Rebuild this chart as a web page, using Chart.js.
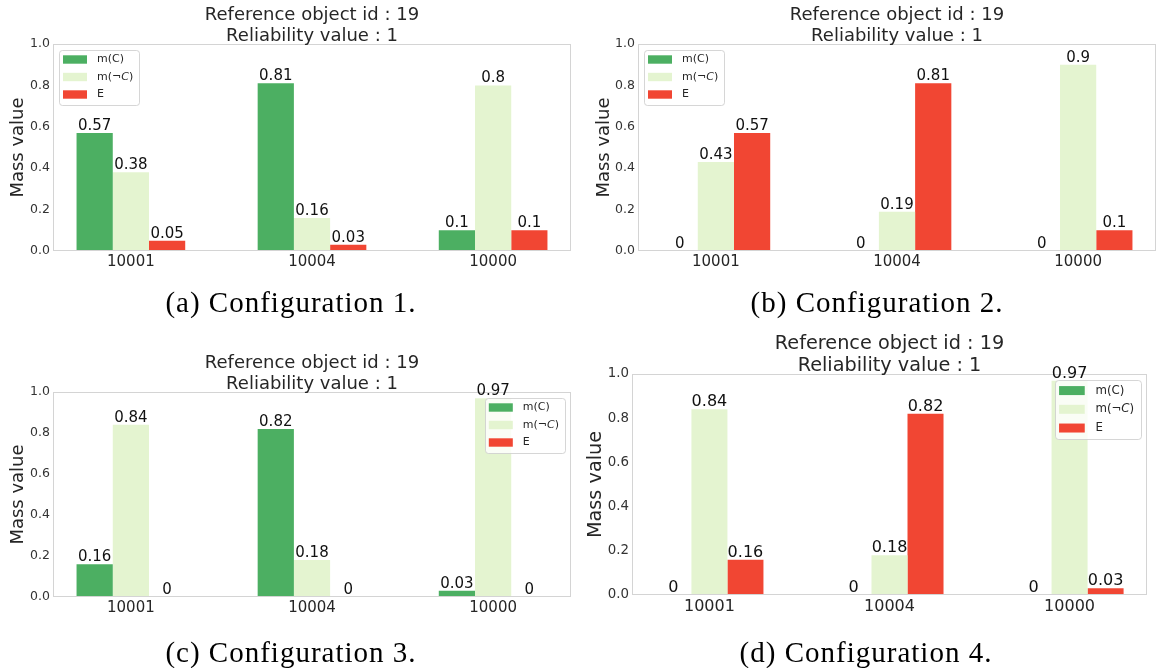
<!DOCTYPE html>
<html><head><meta charset="utf-8">
<script src="https://cdn.jsdelivr.net/npm/chart.js@4.4.1/dist/chart.umd.min.js"></script>
<style>
html,body{margin:0;padding:0;background:#fff;width:1156px;height:668px;overflow:hidden;position:relative}
canvas{position:absolute}
</style></head><body>
<canvas id="ca" width="578" height="334" style="left:0;top:0"></canvas>
<canvas id="cb" width="578" height="334" style="left:578px;top:0"></canvas>
<canvas id="cc" width="578" height="334" style="left:0;top:334px"></canvas>
<canvas id="cd" width="578" height="334" style="left:578px;top:334px"></canvas>
<script>
// ---- data ----
const categories = ['10001', '10004', '10000'];
const seriesNames = ['m(C)', 'm(¬C)', 'E'];
const yTicks = [0, 0.2, 0.4, 0.6, 0.8, 1.0];
const titleLines = ['Reference object id : 19', 'Reliability value : 1'];
const yAxisLabel = 'Mass value';
const captions = ['(a) Configuration 1.', '(b) Configuration 2.', '(c) Configuration 3.', '(d) Configuration 4.'];

const conf1_mC    = [0.57, 0.81, 0.1];
const conf1_mNotC = [0.38, 0.16, 0.8];
const conf1_E     = [0.05, 0.03, 0.1];

const conf2_mC    = [0, 0, 0];
const conf2_mNotC = [0.43, 0.19, 0.9];
const conf2_E     = [0.57, 0.81, 0.1];

const conf3_mC    = [0.16, 0.82, 0.03];
const conf3_mNotC = [0.84, 0.18, 0.97];
const conf3_E     = [0, 0, 0];

const conf4_mC    = [0, 0, 0];
const conf4_mNotC = [0.84, 0.18, 0.97];
const conf4_E     = [0.16, 0.82, 0.03];

// ---- style ----
const colors = ['#4caf62', '#e4f4d0', '#f14633'];
Chart.defaults.font.family = "'DejaVu Sans', sans-serif";
Chart.defaults.color = '#262626';

const decor = {
  id: 'decor',
  afterDatasetsDraw(chart, args, o) {
    const ctx = chart.ctx, a = chart.chartArea, s = o.s;
    ctx.save();
    // spines
    ctx.strokeStyle = '#d4d4d4'; ctx.lineWidth = 1;
    ctx.strokeRect(Math.round(a.left) + 0.5, Math.round(a.top) + 0.5,
                   Math.round(a.right - a.left) - 1, Math.round(a.bottom - a.top) - 1);
    // value labels
    ctx.fillStyle = '#111';
    ctx.font = (15 * s) + "px 'DejaVu Sans'";
    ctx.textAlign = 'center'; ctx.textBaseline = 'alphabetic';
    chart.data.datasets.forEach((ds, i) => {
      chart.getDatasetMeta(i).data.forEach((el, j) => {
        ctx.fillText(String(ds.data[j].y), el.x, el.y - 3);
      });
    });
    ctx.restore();
  },
  afterDraw(chart, args, o) {
    const ctx = chart.ctx, a = chart.chartArea, s = o.s;
    ctx.save();
    // title
    ctx.fillStyle = '#262626';
    ctx.font = (18 * s) + "px 'DejaVu Sans'";
    ctx.textAlign = 'center'; ctx.textBaseline = 'alphabetic';
    const cx = (a.left + a.right) / 2;
    ctx.fillText(titleLines[1], cx, a.top - 3);
    ctx.fillText(titleLines[0], cx, a.top - 3 - 21 * s);
    // legend
    const fs = 11 * s;
    const normal = fs + "px 'DejaVu Sans'", ital = "italic " + fs + "px 'DejaVu Sans'";
    const segs = chart.data.datasets.map(ds => {
      const lab = ds.label, k = lab.indexOf('¬');
      if (k >= 0) return [[lab.slice(0, k + 1), normal], [lab[k + 1], ital], [lab.slice(k + 2), normal]];
      return [[lab, normal]];
    });
    const widths = segs.map(sg => sg.reduce((w, [t, f]) => { ctx.font = f; return w + ctx.measureText(t).width; }, 0));
    const textX = 38 * s;
    const fw = textX + Math.max(...widths) + 6 * s, fh = 55 * s, m = 6 * s;
    const fx = o.legend === 'left' ? a.left + m : a.right - m - fw;
    const fy = a.top + m;
    ctx.beginPath();
    ctx.roundRect(Math.round(fx) + 0.5, Math.round(fy) + 0.5, Math.round(fw), Math.round(fh), 3 * s);
    ctx.fillStyle = 'rgba(255,255,255,0.8)'; ctx.fill();
    ctx.strokeStyle = 'rgba(204,204,204,0.8)'; ctx.lineWidth = 1; ctx.stroke();
    chart.data.datasets.forEach((ds, i) => {
      const ry = fy + 9.5 * s + i * 17.5 * s;
      ctx.fillStyle = ds.backgroundColor;
      ctx.fillRect(fx + 4 * s, ry - 4.2 * s, 24 * s, 8.4 * s);
      ctx.fillStyle = '#262626'; ctx.textAlign = 'left'; ctx.textBaseline = 'middle';
      let x = fx + textX;
      segs[i].forEach(([t, f]) => { ctx.font = f; ctx.fillText(t, x, ry); x += ctx.measureText(t).width; });
    });
    // caption
    ctx.fillStyle = '#000';
    ctx.font = "29px 'Liberation Serif', serif";
    ctx.letterSpacing = '1px';
    ctx.textAlign = 'center'; ctx.textBaseline = 'alphabetic';
    ctx.fillText(o.caption, o.capX, o.capY);
    ctx.restore();
  }
};

const panels = [
  { id: 'ca', series: [conf1_mC, conf1_mNotC, conf1_E], caption: captions[0], s: 1,
    pad: { left: 3, right: 7, top: 44, bottom: 53 }, yTitlePad: 4.7, legend: 'left', capX: 291, capY: 311.7 },
  { id: 'cb', series: [conf2_mC, conf2_mNotC, conf2_E], caption: captions[1], s: 1,
    pad: { left: 10, right: 0, top: 44, bottom: 53 }, yTitlePad: 5.7, legend: 'left', capX: 299, capY: 311.7 },
  { id: 'cc', series: [conf3_mC, conf3_mNotC, conf3_E], caption: captions[2], s: 1,
    pad: { left: 3, right: 7, top: 58, bottom: 41 }, yTitlePad: 4.7, legend: 'right', capX: 291, capY: 327.7 },
  { id: 'cd', series: [conf4_mC, conf4_mNotC, conf4_E], caption: captions[3], s: 1.07,
    pad: { left: 4, right: 9, top: 40, bottom: 43 }, yTitlePad: 2.1, legend: 'right', capX: 288, capY: 327.7 }
];

panels.forEach(p => {
  const s = p.s;
  new Chart(document.getElementById(p.id), {
    type: 'bar',
    data: {
      datasets: p.series.map((vals, i) => ({
        label: seriesNames[i],
        data: vals.map((v, j) => ({ x: j, y: v })),
        backgroundColor: colors[i],
        borderWidth: 0,
        categoryPercentage: 0.6,
        barPercentage: 1.0
      }))
    },
    options: {
      responsive: false,
      animation: false,
      devicePixelRatio: 1,
      layout: { padding: p.pad },
      plugins: { legend: { display: false }, title: { display: false }, tooltip: { enabled: false },
                 decor: { s: s, legend: p.legend, caption: p.caption, capX: p.capX, capY: p.capY } },
      scales: {
        x: {
          type: 'linear', min: -0.43, max: 2.43, offset: false,
          afterFit: sc => { sc.height = 30; },
          afterBuildTicks: sc => { sc.ticks = categories.map((c, i) => ({ value: i })); },
          ticks: { callback: v => categories[Math.round(v)], font: { size: 15 * s }, color: '#262626',
                   padding: 2, maxRotation: 0, autoSkip: false },
          grid: { display: false, drawTicks: false, offset: false },
          border: { display: false }
        },
        y: {
          min: 0, max: 1,
          afterFit: sc => { sc.width = 50; },
          afterBuildTicks: sc => { sc.ticks = yTicks.map(v => ({ value: v })); },
          ticks: { callback: v => v.toFixed(1), font: { size: 12.5 * s }, color: '#333', padding: 3 },
          grid: { display: false, drawTicks: false },
          border: { display: false },
          title: { display: true, text: yAxisLabel, font: { size: 18 * s }, color: '#262626',
                   padding: { top: p.yTitlePad, bottom: 0 } }
        }
      }
    },
    plugins: [decor]
  });
});
</script>
</body></html>
